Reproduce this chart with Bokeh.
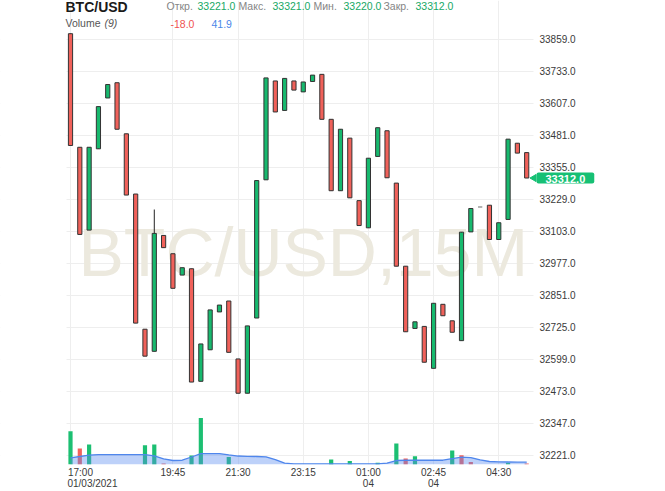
import math
from bokeh.plotting import figure
from bokeh.models import (Range1d, FixedTicker, PrintfTickFormatter, Label, ColumnDataSource,
                          LinearAxis, BoxAnnotation)
from bokeh.embed import file_html
from bokeh.resources import INLINE

FONT = "Liberation Sans"

# ---------------- data ----------------
opens = [33880, 33433, 33107, 33427, 33627, 33687, 33486, 33249, 32717, 32630,
         33086, 33014, 32930, 32955, 32512, 32636, 32785, 32828, 32600, 32465,
         32761, 33305, 33694, 33578, 33694, 33651, 33692, 33720, 33543, 33262,
         33469, 33223, 33116, 33397, 33498, 33292, 32965, 32720, 32728, 32563,
         32815, 32750, 32672, 33100, 33198, 33205, 33070, 33149, 33449, 33412]
closes = [33440, 33090, 33433, 33593, 33680, 33504, 33245, 32741, 32611, 33094,
          33038, 32878, 32959, 32509, 32659, 32793, 32812, 32626, 32465, 32730,
          33302, 33706, 33572, 33704, 33658, 33690, 33717, 33543, 33262, 33504,
          33234, 33125, 33390, 33510, 33313, 32965, 32707, 32746, 32587, 32819,
          32770, 32705, 33099, 33192, 33198, 33070, 33136, 33465, 33410, 33312]
highs = [33880, 33433, 33433, 33593, 33680, 33687, 33486, 33249, 32717, 33188,
         33086, 33014, 32959, 32955, 32659, 32793, 32812, 32828, 32600, 32730,
         33302, 33706, 33694, 33704, 33694, 33690, 33717, 33720, 33543, 33504,
         33469, 33223, 33390, 33510, 33498, 33292, 32965, 32746, 32728, 32819,
         32815, 32750, 33099, 33192, 33198, 33205, 33136, 33465, 33449, 33412]
lows = [33440, 33090, 33107, 33427, 33627, 33504, 33245, 32741, 32611, 32630,
        33038, 32878, 32930, 32509, 32512, 32636, 32785, 32626, 32465, 32465,
        32761, 33305, 33572, 33578, 33658, 33651, 33692, 33543, 33262, 33262,
        33234, 33125, 33116, 33397, 33313, 32965, 32707, 32720, 32587, 32563,
        32770, 32705, 32672, 33100, 33198, 33070, 33070, 33149, 33410, 33312]
# signed volume: negative = selling (red)
volumes = [608, -291, 364, 0, 0, 0, 0, 0, 353, 364,
           -18, 0, 0, 164, 850, 0, 0, 135, 0, 0,
           0, 0, 0, 0, 0, 0, 0, 0, 91, 0,
           62, 0, 0, 31, 0, 382, -109, 153, 0, 0,
           0, 255, -171, -44, 0, 0, 0, 31, 0, -18]
volume_ma = [122, 146, 173, 182, 182, 182, 182, 182, 182, 158,
             104, 73, 78, 137, 200, 200, 200, 177, 155, 149,
             146, 140, 91, 27, 13, 13, 13, 13, 13, 13,
             13, 13, 13, 13, 27, 73, 78, 78, 78, 78,
             78, 109, 133, 127, 86, 55, 49, 46, 42, 41.9]

time_ticks = [0, 11, 18, 25, 32, 39, 46]
time_labels = ["17:00", "19:45", "21:30", "23:15", "01:00", "02:45", "04:30"]
date_ticks = [0, 32, 39]
date_labels = ["01/03/2021", "04", "04"]
price_ticks = [32221, 32347, 32473, 32599, 32725, 32851, 32977,
               33103, 33229, 33355, 33481, 33607, 33733, 33859]

symbol = "BTC/USD"
watermark = "BTC/USD,15M"
ohlc_names = ["Откр.", "Макс.", "Мин.", "Закр."]
ohlc_values = [33221.0, 33321.0, 33220.0, 33312.0]
volume_title = "Volume"
volume_period = "(9)"
volume_last = -18.0
volume_ma_last = 41.9
last_price = 33312.0

# ---------------- layout / styling ----------------
W, H = 665, 491
FRAME_BOTTOM = 466          # px from top of canvas (frame spans whole width, from top)
X0_PX, STEP_PX = 70.0, 9.31  # first candle centre and candle spacing
PLOT_LEFT_PX, PLOT_RIGHT_PX = 66, 533
TOP_TICK_PX, BOT_TICK_PX = 38.7, 456.7
VOL_PER_PX = 18.2

GREEN = "#17b96e"
RED = "#f0615a"
DOJI = "#9a9a9a"
VGREEN = "#1cbf72"
VRED = "#f2625c"
GRID = "#eeeeee"
TXT = "#3a3a3a"
TAG = "#16c074"

def x_at(px):
    return (px - X0_PX) / STEP_PX

units_per_px = (price_ticks[-1] - price_ticks[0]) / (BOT_TICK_PX - TOP_TICK_PX)
y_top = price_ticks[-1] + TOP_TICK_PX * units_per_px
y_bot = price_ticks[-1] - (FRAME_BOTTOM - TOP_TICK_PX) * units_per_px

n = len(opens)
idx = list(range(n))
body_top = [max(o, c) for o, c in zip(opens, closes)]
body_bot = [min(o, c) for o, c in zip(opens, closes)]
body_col = [GREEN if c > o else (RED if c < o else DOJI) for o, c in zip(opens, closes)]
body_line = ["#333333" if c != o else DOJI for o, c in zip(opens, closes)]
vol_abs = [abs(v) for v in volumes]
vol_col = [VGREEN if v >= 0 else VRED for v in volumes]

src = ColumnDataSource(dict(x=idx, top=body_top, bottom=body_bot, high=highs, low=lows,
                            color=body_col, lcolor=body_line, vol=vol_abs, vcol=vol_col,
                            ma=volume_ma, zero=[0] * n))

p = figure(width=W, height=H, output_backend="svg", toolbar_location=None,
           x_range=Range1d(x_at(0), x_at(W)), y_range=Range1d(y_bot, y_top),
           y_axis_location="right",
           min_border_left=0, min_border_right=0, min_border_top=0,
           min_border_bottom=H - FRAME_BOTTOM)
p.outline_line_color = None
p.background_fill_color = "white"
p.border_fill_color = "white"
p.extra_y_ranges = {"vol": Range1d(0, FRAME_BOTTOM * VOL_PER_PX)}

# x axis (time row); first label kept inside the plot like the original
xa = p.below[0]
nudge1 = round(10 / STEP_PX, 2)
tpos = [t + (nudge1 if i == 0 else 0) for i, t in enumerate(time_ticks)]
xa.ticker = FixedTicker(ticks=tpos)
xa.major_label_overrides = {t: l for t, l in zip(tpos, time_labels)}
p.xgrid.ticker = FixedTicker(ticks=time_ticks)

# second row (dates)
nudge2 = round(22 / STEP_PX, 2)
dpos = [t + (nudge2 if i == 0 else 0) for i, t in enumerate(date_ticks)]
xa2 = LinearAxis(ticker=FixedTicker(ticks=dpos),
                 major_label_overrides={t: l for t, l in zip(dpos, date_labels)})
p.add_layout(xa2, "below")

ya = p.right[0]
ya.ticker = FixedTicker(ticks=price_ticks)
p.ygrid.ticker = FixedTicker(ticks=price_ticks)
ya.formatter = PrintfTickFormatter(format="%.1f")
ya.fixed_location = x_at(PLOT_RIGHT_PX)

for ax in (xa, xa2, ya):
    ax.axis_line_color = None
    ax.major_tick_line_color = None
    ax.minor_tick_line_color = None
    ax.major_tick_out = 0
    ax.major_tick_in = 0
    ax.minor_tick_out = 0
    ax.minor_tick_in = 0
    ax.major_label_text_font = FONT
    ax.major_label_text_font_size = "10px"
    ax.major_label_text_color = TXT
xa.major_label_standoff = 2
xa2.major_label_standoff = -3
ya.major_label_standoff = 6
p.xgrid.grid_line_color = GRID
p.ygrid.grid_line_color = GRID

# keep the horizontal grid inside the price area
p.add_layout(BoxAnnotation(left=x_at(PLOT_RIGHT_PX), fill_color="white", fill_alpha=1,
                           line_color=None, level="underlay"))
p.add_layout(BoxAnnotation(right=x_at(PLOT_LEFT_PX), fill_color="white", fill_alpha=1,
                           line_color=None, level="underlay"))

def sy(page_y):
    return FRAME_BOTTOM - page_y

# watermark
p.add_layout(Label(x=78, y=sy(253), x_units="screen", y_units="screen", text=watermark,
                   text_font=FONT, text_font_size="68px", text_color="#ece9de",
                   text_baseline="alphabetic", level="underlay"))

# volume bars + MA area
p.vbar(x="x", width=0.45, top="vol", bottom=0, fill_color="vcol", line_color=None,
       source=src, y_range_name="vol")
p.varea(x="x", y1="zero", y2="ma", fill_color="#5b8def", fill_alpha=0.4,
        source=src, y_range_name="vol")
p.line(x="x", y="ma", line_color="#4f86ec", line_width=1.3, source=src, y_range_name="vol")

# candles
p.segment(x0="x", y0="high", x1="x", y1="low", line_color="#222222", line_width=1, source=src)
p.vbar(x="x", width=0.45, top="top", bottom="bottom", fill_color="color",
       line_color="lcolor", line_width=1, source=src)

# last price tag
p.scatter(x=[x_at(PLOT_RIGHT_PX + 0.5)], y=[last_price], marker="triangle", size=7,
          angle=math.pi / 2, fill_color=TAG, line_color=TAG)
p.add_layout(Label(x=536, y=last_price, x_units="screen", y_units="data",
                   text="%.1f" % last_price, text_font=FONT, text_font_size="11px",
                   text_font_style="bold", text_color="white", text_baseline="middle",
                   background_fill_color=TAG, border_radius=2,
                   padding=dict(left=9, right=9, top=2, bottom=1)))

# header
p.add_layout(Label(x=65, y=sy(16.5), x_units="screen", y_units="screen", text=symbol,
                   text_font=FONT, text_font_size="14px", text_font_style="bold",
                   text_color="#1a1a1a"))
name_x = [166, 238, 313, 383]
val_x = [197, 272, 343, 415]
for nm, vx, nx, v in zip(ohlc_names, val_x, name_x, ohlc_values):
    p.add_layout(Label(x=nx, y=sy(13.2), x_units="screen", y_units="screen", text=nm,
                       text_font=FONT, text_font_size="10.5px", text_color="#858585"))
    p.add_layout(Label(x=vx, y=sy(11.5), x_units="screen", y_units="screen", text="%.1f" % v,
                       text_font=FONT, text_font_size="10.5px", text_color="#17a865"))
p.add_layout(Label(x=65, y=sy(30.5), x_units="screen", y_units="screen", text=volume_title,
                   text_font=FONT, text_font_size="10.5px", text_color="#555555"))
p.add_layout(Label(x=104, y=sy(30.5), x_units="screen", y_units="screen", text=volume_period,
                   text_font=FONT, text_font_size="10.5px", text_font_style="italic",
                   text_color="#555555"))
p.add_layout(Label(x=170, y=sy(29.5), x_units="screen", y_units="screen", text="%.1f" % volume_last,
                   text_font=FONT, text_font_size="10.5px", text_color="#ef5350"))
p.add_layout(Label(x=211, y=sy(29.5), x_units="screen", y_units="screen", text="%.1f" % volume_ma_last,
                   text_font=FONT, text_font_size="10.5px", text_color="#4a86e8"))

open("out.html", "w").write(file_html(p, INLINE))
